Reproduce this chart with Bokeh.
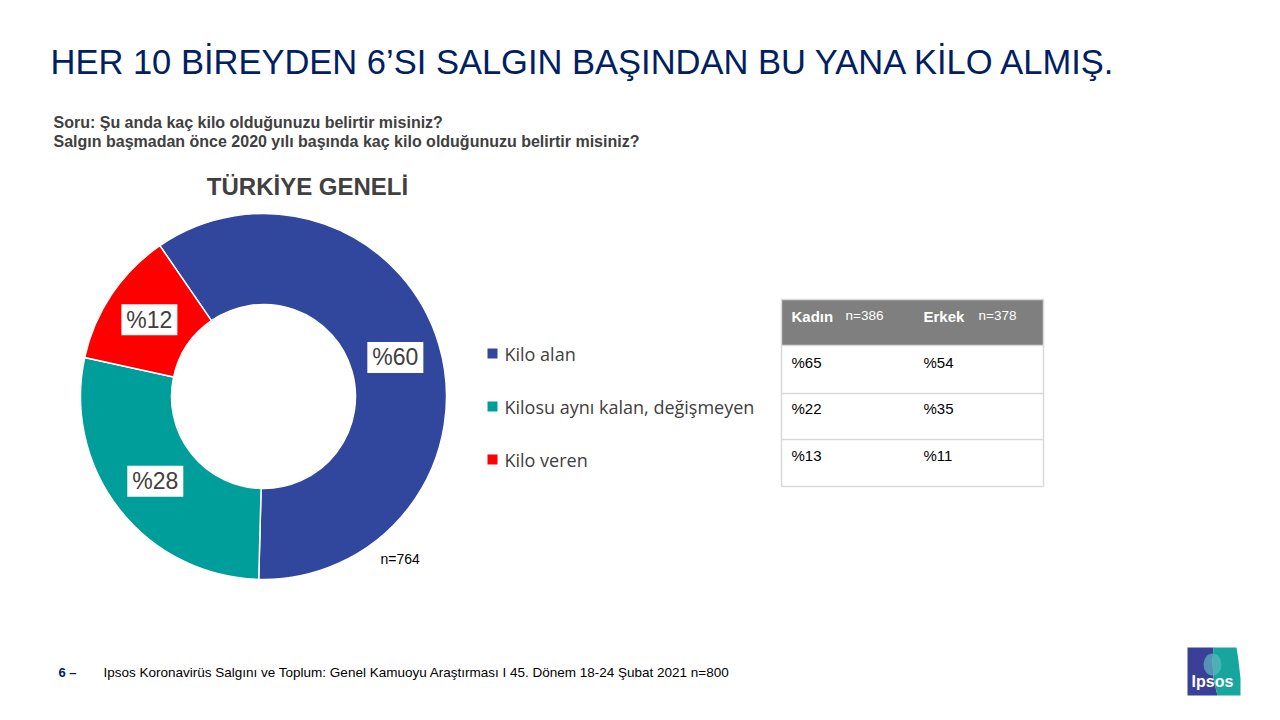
import numpy as np
from bokeh.plotting import figure
from bokeh.models import Range1d, Label
from bokeh.core.properties import value
from bokeh.embed import file_html
from bokeh.resources import INLINE

# ---------------- data ----------------
categories = ["Kilo alan", "Kilosu aynı kalan, değişmeyen", "Kilo veren"]
shares = [60, 28, 12]
colors = ["#31479E", "#009E9A", "#FF0000"]
total_n = 764

table_groups = ["Kadın", "Erkek"]
table_group_n = [386, 378]
kadin = [65, 22, 13]
erkek = [54, 35, 11]

title = "HER 10 BİREYDEN 6’SI SALGIN BAŞINDAN BU YANA KİLO ALMIŞ."
question_lines = ["Soru: Şu anda kaç kilo olduğunuzu belirtir misiniz?",
                  "Salgın başmadan önce 2020 yılı başında kaç kilo olduğunuzu belirtir misiniz?"]
chart_title = "TÜRKİYE GENELİ"
footer_page = "6 –"
footer_text = "Ipsos Koronavirüs  Salgını ve Toplum:  Genel Kamuoyu Araştırması I  45. Dönem  18-24 Şubat 2021   n=800"

# ---------------- layout helpers ----------------
W, H = 1280, 720
def Y(y):
    return H - y

ARIAL = value("Liberation Sans")
TEXT_GREY = "#404040"

p = figure(width=1264, height=704, x_range=Range1d(0, 1264), y_range=Range1d(16, 720),
           output_backend="svg", toolbar_location=None, min_border=0)
p.axis.visible = False
p.grid.visible = False
p.outline_line_color = None
p.background_fill_color = "white"
p.border_fill_color = "white"

# ---------------- title & subtitle ----------------
p.add_layout(Label(x=50, y=Y(61), text=title, text_font="Liberation Sans",
                   text_font_size="34.5px", text_color="#002060", text_baseline="middle"))
p.text(x=[53, 53], y=[Y(121.5), Y(141)], text=question_lines, text_font=ARIAL,
       text_font_size="16px", text_font_style="bold", text_color=TEXT_GREY,
       text_baseline="middle")

# ---------------- donut ----------------
cx, cy = 263, Y(396)
r_in, r_out = 92, 183
start0 = 124.5
starts, ends = [], []
a = start0
for v in shares:
    starts.append(np.deg2rad(a))
    a = a - v * 3.6
    ends.append(np.deg2rad(a))
p.annular_wedge(x=cx, y=cy, inner_radius=r_in, outer_radius=r_out,
                start_angle=starts, end_angle=ends, direction="clock",
                fill_color=colors, line_color="white", line_width=1.5)

p.add_layout(Label(x=307, y=Y(185.5), text=chart_title, text_font="Liberation Sans",
                   text_font_size="24px", text_font_style="bold", text_color=TEXT_GREY,
                   text_align="center", text_baseline="middle"))

mids = [(s + e) / 2 for s, e in zip(starts, ends)]
r_mid = (r_in + r_out) / 2
lx = [cx + r_mid * np.cos(m) for m in mids]
ly = [cy + r_mid * np.sin(m) for m in mids]
p.rect(x=lx, y=ly, width=56, height=31, fill_color="white", line_color=None)
p.text(x=lx, y=ly, text=[f"%{v}" for v in shares], text_font=ARIAL,
       text_font_size="23px", text_color=TEXT_GREY, text_align="center",
       text_baseline="middle")

p.add_layout(Label(x=380, y=Y(558), text=f"n={total_n}", text_font="Liberation Sans",
                   text_font_size="14px", text_color="#000000", text_baseline="middle"))

# ---------------- legend ----------------
leg_y = [Y(353), Y(406), Y(459)]
p.rect(x=[492] * 3, y=leg_y, width=10, height=10, fill_color=colors, line_color=None)
p.text(x=[504] * 3, y=leg_y, text=categories, text_font=value("Open Sans"),
       text_font_size="18px", text_color=TEXT_GREY, text_baseline="middle")

# ---------------- table ----------------
tx0, tx1 = 781, 1043
col_x = [791, 923]
row_edges = [299, 345, 393, 439, 486]
p.quad(left=tx0, right=tx1, top=Y(299), bottom=Y(345), fill_color="#7F7F7F", line_color=None)
p.segment(x0=[tx0] * 5, x1=[tx1] * 5, y0=[Y(r) for r in row_edges], y1=[Y(r) for r in row_edges],
          line_color="#D9D9D9", line_width=1.5)
p.segment(x0=[tx0, tx1], x1=[tx0, tx1], y0=[Y(299)] * 2, y1=[Y(486)] * 2,
          line_color="#D9D9D9", line_width=1.5)
p.text(x=col_x, y=[Y(315.5)] * 2, text=table_groups, text_font=ARIAL, text_font_size="15px",
       text_font_style="bold", text_color="white", text_baseline="middle")
p.text(x=[845, 978], y=[Y(315)] * 2, text=[f"n={n}" for n in table_group_n], text_font=ARIAL,
       text_font_size="13.5px", text_color="white", text_baseline="middle")
row_mid = [Y(362), Y(408), Y(455)]
p.text(x=[col_x[0]] * 3, y=row_mid, text=[f"%{v}" for v in kadin], text_font=ARIAL,
       text_font_size="15px", text_color="#000000", text_baseline="middle")
p.text(x=[col_x[1]] * 3, y=row_mid, text=[f"%{v}" for v in erkek], text_font=ARIAL,
       text_font_size="15px", text_color="#000000", text_baseline="middle")

# ---------------- footer ----------------
p.add_layout(Label(x=58, y=Y(672), text=footer_page, text_font="Liberation Sans",
                   text_font_size="13px", text_font_style="bold", text_color="#002060",
                   text_baseline="middle"))
p.add_layout(Label(x=103, y=Y(672), text=footer_text, text_font="Liberation Sans",
                   text_font_size="13.5px", text_color="#000000", text_baseline="middle"))

# ---------------- Ipsos logo ----------------
p.patch(x=[1187, 1213, 1212, 1213, 1217, 1187], y=[Y(647), Y(647), Y(660), Y(678), Y(695), Y(695)],
        fill_color="#3A3F98", line_color=None)
p.patch(x=[1213, 1236, 1238, 1240, 1240, 1217, 1213, 1212],
        y=[Y(647), Y(647), Y(660), Y(678), Y(695), Y(695), Y(678), Y(660)],
        fill_color="#16A69E", line_color=None)
p.ellipse(x=[1212], y=[Y(664)], width=18, height=22, fill_color="#5FB8C0", line_color=None, alpha=0.7)
p.add_layout(Label(x=1212, y=Y(681), text="Ipsos", text_font="Liberation Sans",
                   text_font_size="16px", text_font_style="bold", text_color="white",
                   text_align="center", text_baseline="middle"))

open("out.html", "w").write(file_html(p, INLINE))
